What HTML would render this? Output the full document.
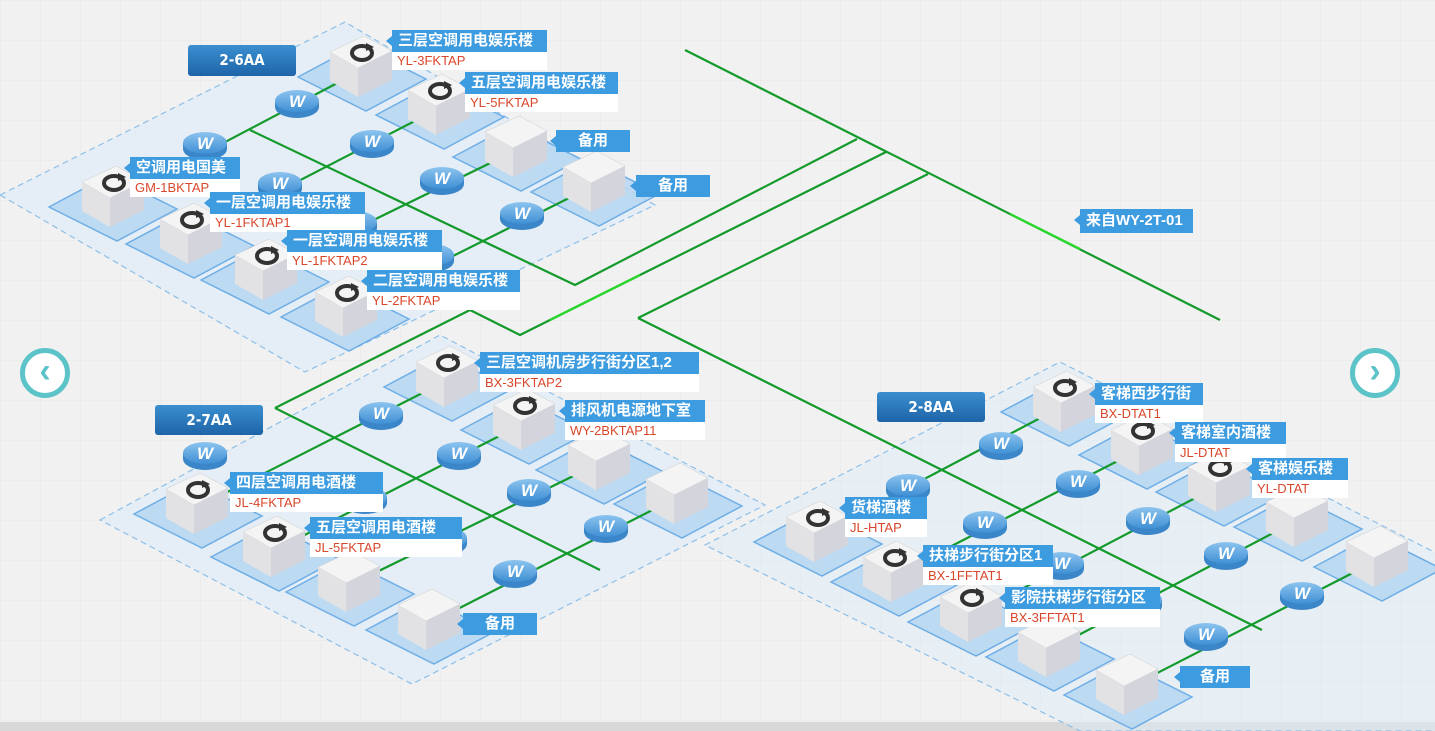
<!DOCTYPE html>
<html><head><meta charset="utf-8">
<style>
body{margin:0;width:1435px;height:731px;overflow:hidden;background:#f1f1f1;font-family:"Liberation Sans","Noto Sans CJK SC",sans-serif;position:relative}
svg{position:absolute;left:0;top:0}
.l{position:absolute;}
.l .t{background:#3d9be0;color:#fff;font-size:15px;font-weight:bold;height:22px;line-height:22px;padding-left:6px;box-sizing:border-box;white-space:nowrap;position:relative}
.l .t:before{content:"";position:absolute;left:-6px;top:6px;border:5px solid transparent;border-right-color:#3d9be0;border-left:0;width:0;height:0;border-right-width:6px}
.l .c{background:#fff;color:#d9472b;font-size:13px;height:18px;line-height:18px;padding-left:5px;box-sizing:border-box;white-space:nowrap}
.ti{position:absolute;background:linear-gradient(#3a8fd0,#1e64a8);color:#fff;font-weight:bold;font-size:15px;text-align:center;border-radius:3px;font-family:"DejaVu Sans Condensed","Liberation Sans",sans-serif}
.nav{position:absolute;width:50px;height:50px;border-radius:50%;border:5px solid #5cc3c9;background:#fff;box-sizing:border-box;color:#5cc3c9;font-size:34px;font-weight:bold;text-align:center;line-height:36px}
</style></head><body>
<svg width="1435" height="731" viewBox="0 0 1435 731">
<defs>
<pattern id="grid" width="40" height="40" patternUnits="userSpaceOnUse"><path d="M0 0H40M0 0V40" stroke="#e6e6e6" stroke-width="1" fill="none"/></pattern>
<linearGradient id="disc" x1="0" y1="0" x2="0" y2="1"><stop offset="0" stop-color="#8cc4ef"/><stop offset="1" stop-color="#3f8fd4"/></linearGradient>
<g id="pad"><polygon points="-64,2 -4,-30 64,4 4,36" fill="#b3d5f2" fill-opacity="0.8" stroke="#6eaee6" stroke-width="1.5"/></g>
<g id="cube">
<polygon points="-30,-13 4,-29 32,-14 -2,3" fill="#f4f4f4" stroke="#ccc" stroke-width="0.5"/>
<polygon points="-30,-13 -2,3 -2,32 -30,16" fill="#e2e2e4"/>
<polygon points="-2,3 32,-14 32,15 -2,32" fill="#d4d4dc"/>
</g>
<g id="icon"><ellipse cx="2" cy="-12" rx="10" ry="7" fill="none" stroke="#333" stroke-width="4"/><polygon points="6,-22 14,-18 6,-14" fill="#333"/></g>
<g id="w"><ellipse cx="0" cy="6" rx="22" ry="11" fill="#3a86c8"/><rect x="-22" y="0" width="44" height="6" fill="#3a86c8"/><ellipse cx="0" cy="0" rx="22" ry="11" fill="url(#disc)"/><text x="0" y="6" font-size="17" font-weight="bold" font-style="italic" fill="#fff" text-anchor="middle" font-family="Liberation Sans">W</text></g>
</defs>
<rect width="1435" height="731" fill="#f1f1f1"/>
<rect width="1435" height="731" fill="url(#grid)"/>
<rect x="0" y="722" width="1435" height="9" fill="#d8d8d8"/>
<g fill="#dfecf8" fill-opacity="0.7" stroke="#8ebfe8" stroke-dasharray="6,4" stroke-width="1.2">
<polygon points="0,195 345,22 655,205 305,372"/>
<polygon points="100,520 440,335 765,505 412,684"/>
<polygon points="705,545 1060,362 1440,555 1440,731 1080,731" fill-opacity="0.55"/>
</g>
<g>
<use href="#pad" x="362" y="75"/><use href="#pad" x="440" y="113"/><use href="#pad" x="517" y="155"/><use href="#pad" x="595" y="190"/>
<use href="#pad" x="113" y="205"/><use href="#pad" x="190" y="242"/><use href="#pad" x="265" y="278"/><use href="#pad" x="345" y="315"/>
<use href="#pad" x="448" y="385"/><use href="#pad" x="525" y="428"/><use href="#pad" x="600" y="468"/><use href="#pad" x="678" y="502"/>
<use href="#pad" x="198" y="512"/><use href="#pad" x="275" y="555"/><use href="#pad" x="350" y="590"/><use href="#pad" x="430" y="628"/>
<use href="#pad" x="1065" y="410"/><use href="#pad" x="1143" y="453"/><use href="#pad" x="1220" y="490"/><use href="#pad" x="1298" y="525"/><use href="#pad" x="1378" y="565"/>
<use href="#pad" x="818" y="540"/><use href="#pad" x="895" y="580"/><use href="#pad" x="972" y="620"/><use href="#pad" x="1050" y="655"/><use href="#pad" x="1128" y="693"/>
</g>
<g stroke="#139a2b" stroke-width="2.2" fill="none">
<polyline points="685,50 1220,320"/>
<polyline points="250,130 575,285 857,139"/>
<polyline points="275,408 470,310 520,335 886,152"/>
<polyline points="275,408 600,570"/>
<polyline points="638,318 928,174"/>
<polyline points="638,318 1262,630"/>
<line x1="115" y1="200" x2="362" y2="70"/><line x1="190" y1="237" x2="440" y2="108"/><line x1="265" y1="273" x2="517" y2="150"/><line x1="345" y1="310" x2="595" y2="185"/>
<line x1="198" y1="507" x2="448" y2="380"/><line x1="275" y1="550" x2="525" y2="423"/><line x1="350" y1="585" x2="600" y2="463"/><line x1="430" y1="623" x2="678" y2="497"/>
<line x1="818" y1="535" x2="1065" y2="405"/><line x1="895" y1="575" x2="1143" y2="448"/><line x1="972" y1="615" x2="1220" y2="485"/><line x1="1050" y1="650" x2="1298" y2="520"/><line x1="1128" y1="688" x2="1378" y2="560"/>
</g>
<g stroke="#2ee02e" stroke-width="2.4" fill="none" opacity="0.85">
<line x1="550" y1="320" x2="640" y2="275"/><line x1="1010" y1="214" x2="1080" y2="249"/>
</g>
<g>
<use href="#w" x="297" y="101"/><use href="#w" x="372" y="141"/><use href="#w" x="442" y="178"/><use href="#w" x="522" y="213"/>
<use href="#w" x="205" y="143"/><use href="#w" x="280" y="183"/><use href="#w" x="355" y="222"/><use href="#w" x="432" y="255"/>
<use href="#w" x="381" y="413"/><use href="#w" x="459" y="453"/><use href="#w" x="529" y="490"/><use href="#w" x="606" y="526"/>
<use href="#w" x="205" y="453"/><use href="#w" x="365" y="497"/><use href="#w" x="445" y="538"/><use href="#w" x="515" y="571"/>
<use href="#w" x="1001" y="443"/><use href="#w" x="1078" y="481"/><use href="#w" x="1148" y="518"/><use href="#w" x="1226" y="553"/><use href="#w" x="1302" y="593"/>
<use href="#w" x="908" y="485"/><use href="#w" x="985" y="522"/><use href="#w" x="1062" y="563"/><use href="#w" x="1140" y="600"/><use href="#w" x="1206" y="634"/>
</g>
<g>
<use href="#cube" x="360" y="65"/><use href="#icon" x="360" y="65"/>
<use href="#cube" x="438" y="103"/><use href="#icon" x="438" y="103"/>
<use href="#cube" x="515" y="145"/>
<use href="#cube" x="593" y="180"/>
<use href="#cube" x="112" y="195"/><use href="#icon" x="112" y="195"/>
<use href="#cube" x="190" y="232"/><use href="#icon" x="190" y="232"/>
<use href="#cube" x="265" y="268"/><use href="#icon" x="265" y="268"/>
<use href="#cube" x="345" y="305"/><use href="#icon" x="345" y="305"/>
<use href="#cube" x="446" y="375"/><use href="#icon" x="446" y="375"/>
<use href="#cube" x="523" y="418"/><use href="#icon" x="523" y="418"/>
<use href="#cube" x="598" y="458"/>
<use href="#cube" x="676" y="492"/>
<use href="#cube" x="196" y="502"/><use href="#icon" x="196" y="502"/>
<use href="#cube" x="273" y="545"/><use href="#icon" x="273" y="545"/>
<use href="#cube" x="348" y="580"/>
<use href="#cube" x="428" y="618"/>
<use href="#cube" x="1063" y="400"/><use href="#icon" x="1063" y="400"/>
<use href="#cube" x="1141" y="443"/><use href="#icon" x="1141" y="443"/>
<use href="#cube" x="1218" y="480"/><use href="#icon" x="1218" y="480"/>
<use href="#cube" x="1296" y="515"/>
<use href="#cube" x="1376" y="555"/>
<use href="#cube" x="816" y="530"/><use href="#icon" x="816" y="530"/>
<use href="#cube" x="893" y="570"/><use href="#icon" x="893" y="570"/>
<use href="#cube" x="970" y="610"/><use href="#icon" x="970" y="610"/>
<use href="#cube" x="1048" y="645"/>
<use href="#cube" x="1126" y="683"/>
</g>
</svg>

<div class="ti" style="left:188px;top:45px;width:108px;height:31px;line-height:31px">2-6AA</div>
<div class="ti" style="left:155px;top:405px;width:108px;height:30px;line-height:30px">2-7AA</div>
<div class="ti" style="left:877px;top:392px;width:108px;height:30px;line-height:30px">2-8AA</div>

<div class="l" style="left:392px;top:30px;width:155px"><div class="t">三层空调用电娱乐楼</div><div class="c">YL-3FKTAP</div></div>
<div class="l" style="left:465px;top:72px;width:153px"><div class="t">五层空调用电娱乐楼</div><div class="c">YL-5FKTAP</div></div>
<div class="l" style="left:556px;top:130px;width:74px"><div class="t" style="text-align:center;padding:0">备用</div></div>
<div class="l" style="left:636px;top:175px;width:74px"><div class="t" style="text-align:center;padding:0">备用</div></div>
<div class="l" style="left:130px;top:157px;width:110px"><div class="t">空调用电国美</div><div class="c">GM-1BKTAP</div></div>
<div class="l" style="left:210px;top:192px;width:155px"><div class="t">一层空调用电娱乐楼</div><div class="c">YL-1FKTAP1</div></div>
<div class="l" style="left:287px;top:230px;width:155px"><div class="t">一层空调用电娱乐楼</div><div class="c">YL-1FKTAP2</div></div>
<div class="l" style="left:367px;top:270px;width:153px"><div class="t">二层空调用电娱乐楼</div><div class="c">YL-2FKTAP</div></div>

<div class="l" style="left:480px;top:352px;width:219px"><div class="t">三层空调机房步行街分区1,2</div><div class="c">BX-3FKTAP2</div></div>
<div class="l" style="left:565px;top:400px;width:140px"><div class="t">排风机电源地下室</div><div class="c">WY-2BKTAP11</div></div>
<div class="l" style="left:230px;top:472px;width:153px"><div class="t">四层空调用电酒楼</div><div class="c">JL-4FKTAP</div></div>
<div class="l" style="left:310px;top:517px;width:152px"><div class="t">五层空调用电酒楼</div><div class="c">JL-5FKTAP</div></div>
<div class="l" style="left:463px;top:613px;width:74px"><div class="t" style="text-align:center;padding:0">备用</div></div>

<div class="l" style="left:1095px;top:383px;width:108px"><div class="t">客梯西步行街</div><div class="c">BX-DTAT1</div></div>
<div class="l" style="left:1175px;top:422px;width:111px"><div class="t">客梯室内酒楼</div><div class="c">JL-DTAT</div></div>
<div class="l" style="left:1252px;top:458px;width:96px"><div class="t">客梯娱乐楼</div><div class="c">YL-DTAT</div></div>
<div class="l" style="left:845px;top:497px;width:82px"><div class="t">货梯酒楼</div><div class="c">JL-HTAP</div></div>
<div class="l" style="left:923px;top:545px;width:130px"><div class="t">扶梯步行街分区1</div><div class="c">BX-1FFTAT1</div></div>
<div class="l" style="left:1005px;top:587px;width:155px"><div class="t">影院扶梯步行街分区</div><div class="c">BX-3FFTAT1</div></div>
<div class="l" style="left:1180px;top:666px;width:70px"><div class="t" style="text-align:center;padding:0">备用</div></div>
<div class="l" style="left:1080px;top:209px;width:113px"><div class="t" style="height:24px;line-height:24px">来自WY-2T-01</div></div>

<div class="nav" style="left:20px;top:348px">‹</div>
<div class="nav" style="left:1350px;top:348px">›</div>
</body></html>
